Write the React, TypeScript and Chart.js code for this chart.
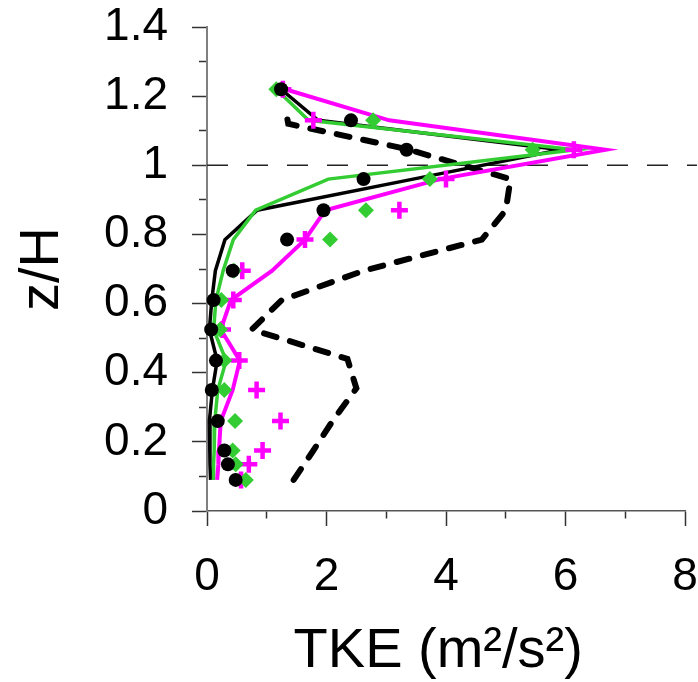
import React, { useEffect, useRef } from 'react';
import { Chart, registerables } from 'chart.js';

Chart.register(...registerables);

// z/H levels of the profiles
const zLevels = [1.22, 1.13, 1.045, 0.96, 0.87, 0.785, 0.695, 0.61, 0.525, 0.435, 0.35, 0.26, 0.175, 0.135, 0.09];

// Observed (markers)
const blackObs = [1.24, 2.41, 3.34, 2.62, 1.95, 1.34, 0.43, 0.11, 0.07, 0.15, 0.08, 0.18, 0.29, 0.35, 0.48];
const greenObs = [1.16, 2.78, 5.45, 3.73, 2.66, 2.06, 0.45, 0.24, 0.22, 0.29, 0.29, 0.47, 0.43, 0.48, 0.65];
const magentaObs = [1.27, 1.78, 6.14, 4.0, 3.22, 1.64, 0.59, 0.44, 0.26, 0.54, 0.83, 1.23, 0.93, 0.7, 0.57];

// Modelled (lines)
const blackLine = [1.24, 1.86, 5.92, 3.45, 0.84, 0.3, 0.14, 0.08, 0.04, 0.17, 0.09, 0.04, 0.05, 0.05, 0.06];
const greenLine = [1.16, 1.7, 6.17, 2.03, 0.815, 0.44, 0.27, 0.15, 0.11, 0.32, 0.18, 0.13, 0.12, 0.11, 0.11];
const magentaLine = [1.31, 3.05, 6.67, 3.9, 1.98, 1.64, 1.09, 0.4, 0.23, 0.55, 0.43, 0.23, 0.2, 0.19, 0.17];

// Thick dashed profile
const dashedX = [1.45, 1.78, 2.1, 2.5, 2.35, 0.75, 1.25, 2.62, 4.6, 5.0, 5.08, 3.34, 1.36, 1.31];
const dashedZ = [0.09, 0.175, 0.26, 0.355, 0.44, 0.525, 0.61, 0.695, 0.785, 0.87, 0.96, 1.047, 1.12, 1.165];

// Reference line z/H = 1
const refLineX = [0, 8.2];
const refLineZ = [1, 1];

const GREEN = '#33cc33';
const MAGENTA = '#ff00ff';
const BLACK = '#000000';
const FONT = '"Liberation Sans", Arial, Helvetica, sans-serif';

const pts = (xs: number[], zs: number[]) => xs.map((x, i) => ({ x, y: zs[i] }));

export default function App() {
  const ref = useRef<HTMLCanvasElement>(null);

  useEffect(() => {
    const canvas = ref.current!;
    const chart = new Chart(canvas, {
      type: 'scatter',
      data: {
        datasets: [
          {
            label: 'black obs',
            data: pts(blackObs, zLevels),
            showLine: false,
            pointStyle: 'circle',
            pointRadius: 7,
            pointBackgroundColor: BLACK,
            pointBorderColor: BLACK,
            pointBorderWidth: 0,
            clip: false,
          },
          {
            label: 'green obs',
            data: pts(greenObs, zLevels),
            showLine: false,
            pointStyle: 'rectRot',
            pointRadius: 8,
            pointBackgroundColor: GREEN,
            pointBorderColor: GREEN,
            pointBorderWidth: 0,
            clip: false,
          },
          {
            label: 'magenta obs',
            data: pts(magentaObs, zLevels),
            showLine: false,
            pointStyle: 'cross',
            pointRadius: 8.5,
            pointBackgroundColor: MAGENTA,
            pointBorderColor: MAGENTA,
            pointBorderWidth: 4.5,
            clip: false,
          },
          {
            label: 'magenta model',
            data: pts(magentaLine, zLevels),
            showLine: true,
            pointRadius: 0,
            borderColor: MAGENTA,
            borderWidth: 4,
            tension: 0,
            clip: false,
          },
          {
            label: 'green model',
            data: pts(greenLine, zLevels),
            showLine: true,
            pointRadius: 0,
            borderColor: GREEN,
            borderWidth: 3.5,
            tension: 0,
            clip: false,
          },
          {
            label: 'black model',
            data: pts(blackLine, zLevels),
            showLine: true,
            pointRadius: 0,
            borderColor: BLACK,
            borderWidth: 3.5,
            tension: 0,
            clip: false,
          },
          {
            label: 'dashed',
            data: pts(dashedX, dashedZ),
            showLine: true,
            pointRadius: 0,
            borderColor: BLACK,
            borderWidth: 6,
            borderDash: [13, 14],
            borderCapStyle: 'round',
            tension: 0,
            clip: false,
          },
          {
            label: 'z/H = 1',
            data: pts(refLineX, refLineZ),
            showLine: true,
            pointRadius: 0,
            borderColor: '#222222',
            borderWidth: 1.5,
            borderDash: [21, 19],
            tension: 0,
            clip: false,
          },
        ],
      },
      options: {
        responsive: false,
        animation: false,
        events: [],
        layout: { padding: { top: 27, right: 11, left: 0, bottom: 0 } },
        plugins: {
          legend: { display: false },
          tooltip: { enabled: false },
        },
        scales: {
          x: {
            type: 'linear',
            min: 0,
            max: 8,
            ticks: {
              stepSize: 1,
              autoSkip: false,
              maxRotation: 0,
              callback: (v: any) => (Math.round(v) % 2 === 0 ? String(Math.round(v)) : ''),
              font: { size: 46, family: FONT },
              color: '#000',
              padding: 24,
            },
            grid: {
              drawOnChartArea: false,
              drawTicks: true,
              tickLength: 15,
              tickColor: '#333',
              tickWidth: 1.5,
              tickBorderDash: (ctx: any) => (Math.round(ctx.tick.value) % 2 === 0 ? [] : [7, 100]),
            },
            border: { color: '#555', width: 1.5 },
            title: {
              display: true,
              text: 'TKE (m²/s²) ',
              font: { size: 56, family: FONT, lineHeight: 1.07 },
              color: '#000',
              padding: 0,
            },
            afterFit: (s: any) => {
              s.height = 171;
              s.paddingLeft = 0;
              s.paddingRight = 0;
            },
          },
          y: {
            type: 'linear',
            min: 0,
            max: 1.4,
            ticks: {
              stepSize: 0.1,
              autoSkip: false,
              callback: (v: any) => {
                const r = Math.round(v * 10);
                return r % 2 === 0 ? String(Number((r / 10).toFixed(1))) : '';
              },
              font: { size: 46, family: FONT },
              color: '#000',
              padding: 24,
            },
            grid: {
              drawOnChartArea: false,
              drawTicks: true,
              tickLength: 15,
              tickColor: '#333',
              tickWidth: 1.5,
              tickBorderDash: (ctx: any) => (Math.round(ctx.tick.value * 10) % 2 === 0 ? [] : [0, 7, 8, 100]),
            },
            border: { color: '#808080', width: 2 },
            title: {
              display: true,
              text: 'z/H',
              font: { size: 56, family: FONT },
              color: '#000',
              padding: { top: 9, bottom: 0 },
            },
            afterFit: (s: any) => {
              s.width = 207;
              s.paddingTop = 0;
              s.paddingBottom = 0;
            },
          },
        },
      },
    } as any);
    return () => chart.destroy();
  }, []);

  return (
    <div style={{ position: 'fixed', left: 0, top: 0, width: 698, height: 682, background: '#fff' }}>
      <canvas ref={ref} width={698} height={682} style={{ display: 'block' }} />
    </div>
  );
}
